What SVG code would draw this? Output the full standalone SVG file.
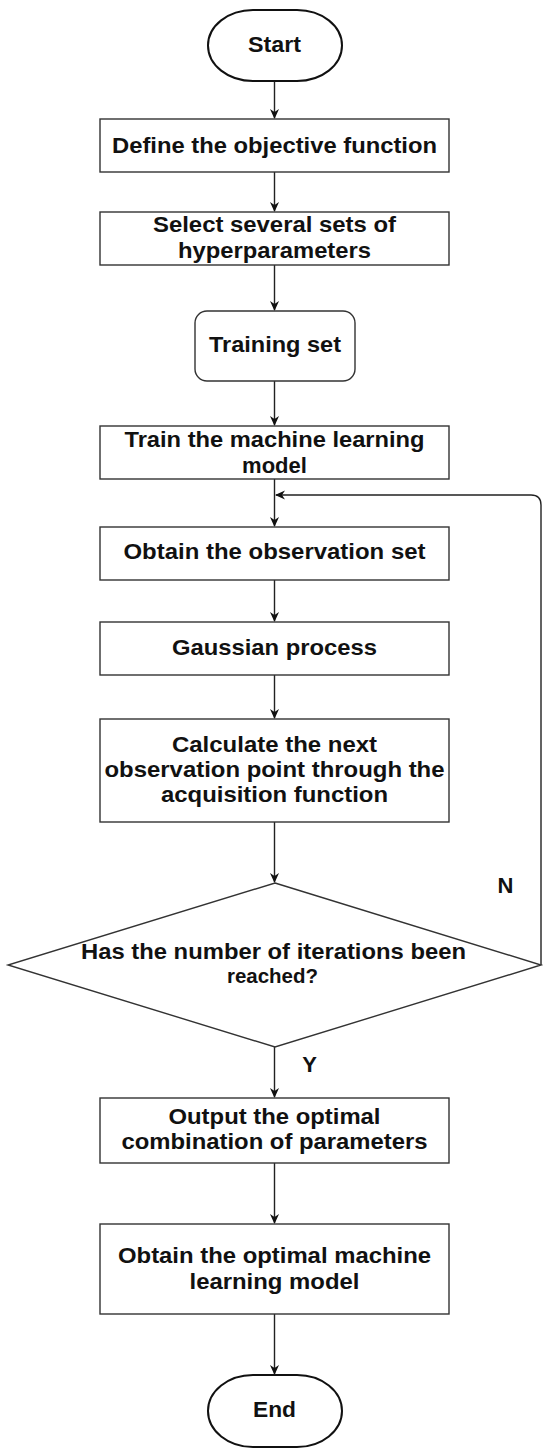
<svg xmlns="http://www.w3.org/2000/svg" width="550" height="1456" viewBox="0 0 550 1456">
<style>
.box{fill:#fff;stroke:#333;stroke-width:1.4}
.term{fill:#fff;stroke:#111;stroke-width:2}
.t{font-family:"Liberation Sans",Arial,sans-serif;font-weight:bold;font-size:22px;fill:#111;text-anchor:middle}
.s{font-size:19.5px}
.c{fill:none;stroke:#222;stroke-width:1.4}
</style>
<defs>
<marker id="ah" markerWidth="10" markerHeight="10" refX="9" refY="5" orient="auto" markerUnits="userSpaceOnUse">
<path d="M0,0.5 L10,5 L0,9.5 L3,5 Z" fill="#111"/>
</marker>
</defs>
<rect width="550" height="1456" fill="#fff"/>
<g id="connectors">
<path class="c" d="M274.5 81 V118" marker-end="url(#ah)"/>
<path class="c" d="M274.5 172 V211" marker-end="url(#ah)"/>
<path class="c" d="M274.5 265 V310" marker-end="url(#ah)"/>
<path class="c" d="M274.5 381 V425" marker-end="url(#ah)"/>
<path class="c" d="M274.5 479 V526" marker-end="url(#ah)"/>
<path class="c" d="M274.5 580 V621" marker-end="url(#ah)"/>
<path class="c" d="M274.5 675 V718" marker-end="url(#ah)"/>
<path class="c" d="M274.5 822 V882" marker-end="url(#ah)"/>
<path class="c" d="M274.5 1047 V1097" marker-end="url(#ah)"/>
<path class="c" d="M274.5 1163 V1223" marker-end="url(#ah)"/>
<path class="c" d="M274.5 1314 V1374" marker-end="url(#ah)"/>
<path class="c" d="M541 965 V505 Q541 495 531 495 H276" marker-end="url(#ah)"/>
<text class="t" x="505.5" y="893">N</text>
<text class="t" x="309.5" y="1072">Y</text>
</g>
<g id="start">
<rect class="term" x="208" y="10" width="134" height="71" rx="45" ry="35.5"/>
<text class="t" x="274.5" y="52" textLength="53" lengthAdjust="spacingAndGlyphs">Start</text>
</g>
<g id="define">
<rect class="box" x="100" y="119" width="349" height="53"/>
<text class="t" x="274.5" y="153" textLength="325" lengthAdjust="spacingAndGlyphs">Define the objective function</text>
</g>
<g id="select">
<rect class="box" x="100" y="212" width="349" height="53"/>
<text class="t" x="274.5" y="232" textLength="243" lengthAdjust="spacingAndGlyphs">Select several sets of</text>
<text class="t" x="274.5" y="258" textLength="193" lengthAdjust="spacingAndGlyphs">hyperparameters</text>
</g>
<g id="training">
<rect class="box" x="195" y="311" width="160" height="70" rx="12" ry="12"/>
<text class="t" x="275" y="352" textLength="132" lengthAdjust="spacingAndGlyphs">Training set</text>
</g>
<g id="train">
<rect class="box" x="100" y="426" width="349" height="53"/>
<text class="t" x="274.5" y="447" textLength="300" lengthAdjust="spacingAndGlyphs">Train the machine learning</text>
<text class="t" x="274.5" y="473">model</text>
</g>
<g id="observe">
<rect class="box" x="100" y="527" width="349" height="53"/>
<text class="t" x="274.5" y="559" textLength="302" lengthAdjust="spacingAndGlyphs">Obtain the observation set</text>
</g>
<g id="gaussian">
<rect class="box" x="100" y="622" width="349" height="53"/>
<text class="t" x="274.5" y="655" textLength="205" lengthAdjust="spacingAndGlyphs">Gaussian process</text>
</g>
<g id="calculate">
<rect class="box" x="100" y="719" width="349" height="103"/>
<text class="t" x="274.5" y="752" textLength="205" lengthAdjust="spacingAndGlyphs">Calculate the next</text>
<text class="t" x="274.5" y="777" textLength="340" lengthAdjust="spacingAndGlyphs">observation point through the</text>
<text class="t" x="274.5" y="802" textLength="227" lengthAdjust="spacingAndGlyphs">acquisition function</text>
</g>
<g id="decision">
<polygon class="box" points="275,883 541,965 275,1047 8,965"/>
<text class="t" x="273.5" y="959" textLength="385" lengthAdjust="spacingAndGlyphs">Has the number of iterations been</text>
<text class="t s" x="272.5" y="983" textLength="91" lengthAdjust="spacingAndGlyphs">reached?</text>
</g>
<g id="output">
<rect class="box" x="100" y="1098" width="349" height="65"/>
<text class="t" x="274.5" y="1124" textLength="212" lengthAdjust="spacingAndGlyphs">Output the optimal</text>
<text class="t" x="274.5" y="1149" textLength="306" lengthAdjust="spacingAndGlyphs">combination of parameters</text>
</g>
<g id="optimal">
<rect class="box" x="100" y="1224" width="349" height="90"/>
<text class="t" x="274.5" y="1263" textLength="313" lengthAdjust="spacingAndGlyphs">Obtain the optimal machine</text>
<text class="t" x="274.5" y="1289" textLength="170" lengthAdjust="spacingAndGlyphs">learning model</text>
</g>
<g id="end">
<rect class="term" x="208" y="1375" width="134" height="72" rx="45" ry="36"/>
<text class="t" x="274.5" y="1417" textLength="43" lengthAdjust="spacingAndGlyphs">End</text>
</g>
</svg>
